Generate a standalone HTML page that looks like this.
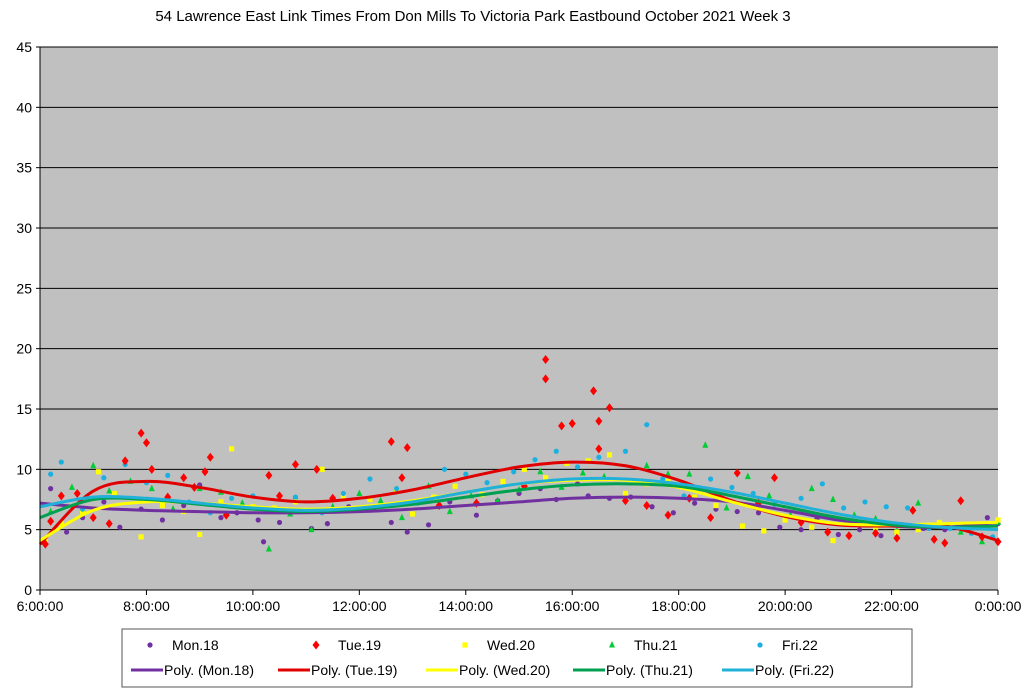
<!DOCTYPE html>
<html><head><meta charset="utf-8"><style>
body{margin:0;background:#fff;width:1024px;height:691px;overflow:hidden;font-family:"Liberation Sans",sans-serif}
svg text{font-family:"Liberation Sans",sans-serif}
</style></head><body>
<svg id="chart" width="1024" height="691">
<text x="473" y="21" text-anchor="middle" font-size="15" fill="#000">54 Lawrence East Link Times From Don Mills To Victoria Park Eastbound October 2021  Week 3</text>
<rect x="40" y="47" width="958" height="543" fill="#c0c0c0"/>
<g id="grid"></g><g id="pts"></g><g id="curves"></g><g id="axes"></g>
<rect x="122" y="629" width="790" height="58" fill="#fff" stroke="#555"/>
<g id="legend"></g>
</svg>
<script>
const yTicks=[0,5,10,15,20,25,30,35,40,45];
const xTickLabels=["6:00:00","8:00:00","10:00:00","12:00:00","14:00:00","16:00:00","18:00:00","20:00:00","22:00:00","0:00:00"];
const xTickHours=[6,8,10,12,14,16,18,20,22,24];
const seriesNames=["Mon.18","Tue.19","Wed.20","Thu.21","Fri.22"];
const curveHours=[6,7,8,9,10,11,12,13,14,15,16,17,18,19,20,21,22,23,24];
const polyMon=[7.2,6.8,6.6,6.5,6.4,6.4,6.5,6.7,7.0,7.3,7.6,7.7,7.6,7.3,6.6,5.8,5.3,5.2,5.6];
const polyTue=[3.8,8.2,9.0,8.5,7.7,7.3,7.6,8.3,9.3,10.2,10.6,10.3,9.1,7.4,6.1,5.4,5.3,5.3,4.1];
const polyWed=[4.1,6.6,7.3,7.2,6.9,6.7,6.9,7.4,8.1,8.8,9.1,9.1,8.5,7.3,6.2,5.5,5.4,5.5,5.6];
const polyThu=[6.0,7.5,7.5,7.1,6.7,6.5,6.7,7.1,7.7,8.3,8.7,8.8,8.6,7.8,6.9,6.0,5.4,5.2,5.3];
const polyFri=[6.9,7.7,7.6,7.2,6.8,6.6,6.8,7.3,8.1,8.8,9.2,9.2,8.8,8.1,7.2,6.3,5.6,5.2,5.0];
const monX=[6.2,6.5,6.8,7.2,7.5,7.9,8.3,8.7,9.0,9.4,9.7,10.1,10.2,10.5,10.8,11.1,11.4,11.8,12.3,12.6,12.9,13.3,13.7,14.2,14.6,15.0,15.4,15.7,16.1,16.3,16.7,17.1,17.5,17.9,18.3,18.7,19.1,19.5,19.9,20.3,20.6,21.0,21.4,21.8,22.2,22.6,23.0,23.4,23.8,24];
const monY=[8.4,4.8,6.0,7.3,5.2,6.7,5.8,7.0,8.7,6.0,6.4,5.8,4.0,5.6,7.5,5.1,5.5,6.9,6.9,5.6,4.8,5.4,7.3,6.2,7.4,8.0,8.4,7.5,8.8,7.8,7.6,7.7,6.9,6.4,7.2,6.7,6.5,6.4,5.2,5.0,5.9,4.6,5.0,4.5,5.4,5.1,5.0,5.1,6.0,5.5];
const tueX=[6.1,6.2,6.4,6.7,7.0,7.3,7.6,7.9,8.0,8.1,8.4,8.7,8.9,9.1,9.2,9.5,10.3,10.5,10.8,11.2,11.5,12.6,12.9,12.8,13.5,14.2,15.1,15.5,15.5,15.8,16.0,16.4,16.5,16.7,16.5,17.0,17.4,17.8,18.2,18.6,19.1,19.5,19.8,20.3,20.8,21.2,21.7,22.1,22.4,22.8,23.0,23.3,23.7,24];
const tueY=[3.8,5.7,7.8,8.0,6.0,5.5,10.7,13.0,12.2,10.0,7.7,9.3,8.5,9.8,11.0,6.2,9.5,7.8,10.4,10.0,7.6,12.3,11.8,9.3,7.0,7.2,8.6,19.1,17.5,13.6,13.8,16.5,14.0,15.1,11.7,7.4,7.0,6.2,7.6,6.0,9.7,7.2,9.3,5.6,4.8,4.5,4.7,4.3,6.6,4.2,3.9,7.4,4.4,4.0];
const wedX=[6.1,6.4,6.8,7.1,7.4,7.9,8.3,8.7,9.0,9.4,9.6,10.0,10.4,10.8,11.3,11.7,12.2,12.7,13.0,13.4,13.8,14.3,14.7,15.1,15.5,15.9,16.3,16.7,17.0,17.4,17.8,18.3,18.7,19.2,19.6,20.0,20.5,20.9,21.3,21.7,22.1,22.5,22.9,23.3,23.7,24];
const wedY=[4.0,5.5,6.4,9.8,8.0,4.4,7.0,6.5,4.6,7.3,11.7,6.9,6.8,7.3,10.0,7.8,7.5,8.3,6.3,7.7,8.6,7.9,9.0,10.0,9.3,10.5,10.7,11.2,8.0,8.8,9.0,7.7,7.0,5.3,4.9,5.8,5.2,4.1,5.6,5.2,4.8,5.0,5.6,5.4,5.3,5.8];
const thuX=[6.2,6.6,7.0,7.3,7.7,8.1,8.5,9.0,9.4,9.8,10.3,10.7,11.1,11.5,12.0,12.4,12.8,13.3,13.7,14.1,14.6,15.0,15.4,15.8,16.2,16.6,17.0,17.4,17.8,18.2,18.5,18.9,19.3,19.7,20.1,20.5,20.9,21.3,21.7,22.1,22.5,22.9,23.3,23.7,24];
const thuY=[6.5,8.5,10.3,8.2,9.0,8.4,6.7,8.4,8.1,7.2,3.4,6.3,5.0,6.9,8.0,7.4,6.0,8.6,6.5,7.8,7.4,8.3,9.8,8.5,9.7,9.4,7.8,10.3,9.6,9.6,12.0,6.8,9.4,7.8,6.2,8.4,7.5,6.2,5.9,4.9,7.2,5.3,4.8,4.0,5.6];
const friX=[6.2,6.4,6.8,7.2,7.6,8.0,8.4,8.8,9.2,9.6,10.0,10.4,10.8,11.3,11.7,12.2,12.7,13.1,13.6,14.0,14.4,14.9,15.3,15.7,16.1,16.5,17.0,17.4,17.7,18.1,18.6,19.0,19.4,19.8,20.3,20.7,21.1,21.5,21.9,22.3,22.7,23.1,23.5,23.9];
const friY=[9.6,10.6,6.7,9.3,10.4,8.9,9.5,7.3,6.4,7.6,7.8,6.5,7.7,6.4,8.0,9.2,8.4,7.2,10.0,9.6,8.9,9.8,10.8,11.5,10.2,11.0,11.5,13.7,9.2,7.8,9.2,8.5,8.0,7.1,7.6,8.8,6.8,7.3,6.9,6.8,5.1,5.1,4.7,4.4];

const X0=40,X1=998,Y0=590,Y1=47;
const xs=h=>X0+(h-6)/18*(X1-X0);
const ys=v=>Y0-v/45*(Y0-Y1);
const NS="http://www.w3.org/2000/svg";
function mk(tag,attrs,parent){const e=document.createElementNS(NS,tag);for(const k in attrs)e.setAttribute(k,attrs[k]);parent.appendChild(e);return e;}
const grid=document.getElementById('grid'),axes=document.getElementById('axes');
yTicks.forEach(t=>{
  if(t>0){const l=mk('line',{x1:X0,x2:X1,y1:ys(t),y2:ys(t),stroke:'#000','stroke-width':1},grid);
  
  }
  const tx=mk('text',{x:X0-8,y:ys(t)+5,'text-anchor':'end','font-size':14},axes);tx.textContent=t;
  
  
  mk('line',{x1:X0-4,x2:X0,y1:ys(t),y2:ys(t),stroke:'#000'},axes);
});
mk('line',{x1:X0,x2:X0,y1:Y1,y2:Y0,stroke:'#000'},axes);
mk('line',{x1:X0,x2:X1,y1:Y0,y2:Y0,stroke:'#000'},axes);
xTickHours.forEach((h,i)=>{
  mk('line',{x1:xs(h),x2:xs(h),y1:Y0,y2:Y0+5,stroke:'#000'},axes);
  const tx=mk('text',{x:xs(h),y:Y0+21,'text-anchor':'middle','font-size':14},axes);tx.textContent=xTickLabels[i];
  
  
});
const colors=['#7030a0','#ff0000','#ffff00','#00cc33','#1ab0e0'];
const lineColors=['#7030a0','#e00000','#ffff00','#00a050','#20b0d8'];
function marker(k,x,y,p){
  let e;
  if(k===0||k===4)e=mk('circle',{cx:x,cy:y,r:2.6,fill:colors[k]},p);
  else if(k===1)e=mk('polygon',{points:`${x},${y-4.5} ${x+3.5},${y} ${x},${y+4.5} ${x-3.5},${y}`,fill:colors[k]},p);
  else if(k===2)e=mk('rect',{x:x-2.6,y:y-2.6,width:5.2,height:5.2,fill:colors[k]},p);
  else e=mk('polygon',{points:`${x},${y-4} ${x+3},${y+2.5} ${x-3},${y+2.5}`,fill:colors[k]},p);
  return e;
}
const pts=document.getElementById('pts');
const allX=[monX,tueX,wedX,thuX,friX],allY=[monY,tueY,wedY,thuY,friY];
[0,3,2,4,1].forEach(k=>{allX[k].forEach((h,i)=>{
  const e=marker(k,xs(h),ys(allY[k][i]),pts);
  
  
});});
function smooth(vals){
  const P=curveHours.map((h,i)=>[xs(h),ys(vals[i])]);
  let d=`M${P[0][0]},${P[0][1]}`;
  for(let i=0;i<P.length-1;i++){
    const p0=P[Math.max(0,i-1)],p1=P[i],p2=P[i+1],p3=P[Math.min(P.length-1,i+2)];
    d+=` C${p1[0]+(p2[0]-p0[0])/6},${p1[1]+(p2[1]-p0[1])/6} ${p2[0]-(p3[0]-p1[0])/6},${p2[1]-(p3[1]-p1[1])/6} ${p2[0]},${p2[1]}`;
  }
  return d;
}
const curves=document.getElementById('curves');
const polys=[polyMon,polyTue,polyWed,polyThu,polyFri];
[0,1,2,3,4].forEach(k=>{
  const e=mk('path',{d:smooth(polys[k]),fill:'none',stroke:lineColors[k],'stroke-width':3},curves);
  
  
});
const leg=document.getElementById('legend');
const mX=[150,316,465,612,760],lX=[131,278,426,573,722];
seriesNames.forEach((n,k)=>{
  const m=marker(k,mX[k],645,leg);
  
  
  const t=mk('text',{x:mX[k]+22,y:650,'font-size':14},leg);t.textContent=n;
  
  
  mk('line',{x1:lX[k],x2:lX[k]+32,y1:670,y2:670,stroke:lineColors[k],'stroke-width':3},leg);
  const t2=mk('text',{x:lX[k]+33,y:675,'font-size':14},leg);t2.textContent='Poly. ('+n+')';
  
  
});
</script>
</body></html>
